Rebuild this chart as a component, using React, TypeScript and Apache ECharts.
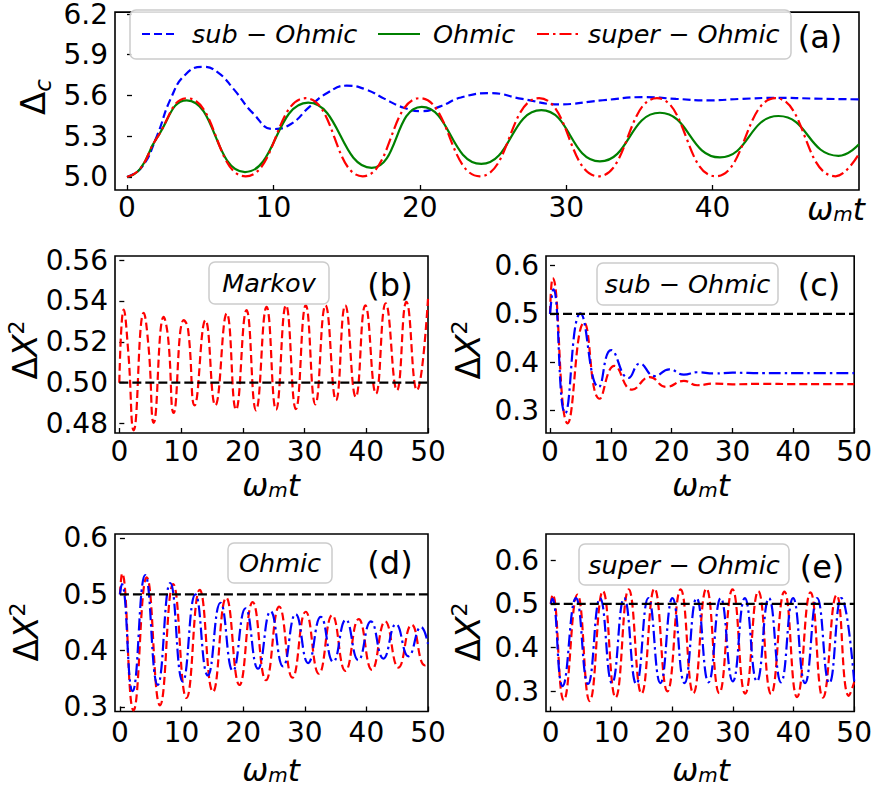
import React, { useEffect, useRef } from "react";
import * as echarts from "echarts";

const MATH = "DejaVu Sans";
const SANS = "DejaVu Sans";

// ---------- tick values ----------
const xTicksA = [0, 10, 20, 30, 40];
const xTicks = [0, 10, 20, 30, 40, 50];
const yTicksA = [5.0, 5.3, 5.6, 5.9, 6.2];
const yTicksB = [0.48, 0.5, 0.52, 0.54, 0.56];
const yTicksCDE = [0.3, 0.4, 0.5, 0.6];

// ---------- panel (a): Delta_c ----------
const aSubOhmic: [number, number][] = [
  [0, 5.0], [1, 5.07], [2, 5.29], [3, 5.58], [4, 5.755], [5.2, 5.811], [6.2, 5.77], [7.3, 5.645],
  [8.6, 5.47], [10.0, 5.353], [11.2, 5.39], [12.5, 5.52], [13.7, 5.62], [15.0, 5.672], [16.3, 5.645],
  [17.6, 5.575], [18.9, 5.51], [20.1, 5.485], [21.4, 5.52], [22.8, 5.585], [24.8, 5.617], [27.0, 5.575],
  [29.5, 5.535], [32.5, 5.565], [35.3, 5.588], [37.5, 5.575], [39.6, 5.564], [42.0, 5.575], [44.4, 5.583],
  [47.0, 5.577], [50, 5.571],
];
const aOhmic: [number, number][] = [
  [0, 5.0], [0.9, 5.06], [2.0, 5.28], [4.08, 5.564], [8.06, 5.036], [12.38, 5.547], [16.71, 5.067],
  [20.13, 5.516], [24.2, 5.096], [28.3, 5.492], [32.3, 5.115], [36.4, 5.473], [40.5, 5.144], [44.5, 5.449],
  [48.6, 5.156], [50, 5.24],
];
const aSuperOhmic: [number, number][] = [
  [0, 5.0], [0.9, 5.06], [2.0, 5.28], [4.1, 5.58], [8.1, 5.005], [12.2, 5.58], [16.1, 5.005], [20.0, 5.58],
  [24.1, 5.005], [28.15, 5.58], [32.2, 5.005], [36.2, 5.58], [40.2, 5.005], [44.3, 5.58], [48.4, 5.005],
  [50, 5.17],
];

// ---------- panel (b): Markov ----------
const bMarkov: [number, number][] = [
  [0, 0.5], [0.71, 0.5358], [1.45, 0.515], [2.33, 0.4767], [3.95, 0.5342], [4.75, 0.517], [5.57, 0.4804],
  [7.19, 0.5322], [7.9, 0.522], [8.8, 0.4852], [10.42, 0.5306], [11.1, 0.527], [12.2, 0.4889],
  [13.95, 0.5306], [15.55, 0.4889], [17.4, 0.5339], [18.9, 0.4868], [20.6, 0.5355], [22.14, 0.4865],
  [23.85, 0.5371], [25.38, 0.4868], [27.0, 0.5379], [28.6, 0.4871], [30.2, 0.5379], [31.75, 0.4894],
  [33.4, 0.5379], [35.1, 0.4914], [36.6, 0.5379], [38.3, 0.493], [39.85, 0.5379], [41.57, 0.4946],
  [43.15, 0.5388], [44.97, 0.4963], [46.5, 0.5396], [48.2, 0.4963], [50, 0.541],
];

// ---------- panel (c): sub-Ohmic ----------
const cBlue: [number, number][] = [
  [0, 0.5], [0.55, 0.551], [2.5, 0.294], [5.0, 0.501], [8.0, 0.348], [10.05, 0.425], [12.9, 0.367],
  [14.75, 0.397], [17.2, 0.371], [19.6, 0.385], [22.0, 0.374], [24.2, 0.379], [27, 0.3765], [30, 0.378],
  [35, 0.377], [40, 0.377], [45, 0.377], [50, 0.377],
];
const cRed: [number, number][] = [
  [0, 0.5], [0.44, 0.574], [2.9, 0.273], [5.6, 0.482], [8.15, 0.324], [10.6, 0.392], [13.5, 0.343],
  [16.4, 0.369], [19.1, 0.3485], [22.0, 0.361], [24.2, 0.352], [27, 0.3555], [30, 0.354], [35, 0.355],
  [40, 0.3545], [45, 0.3545], [50, 0.3545],
];

// ---------- panel (d): Ohmic ----------
const dBlue: [number, number][] = [
  [0, 0.5], [0.3, 0.518], [2.05, 0.328], [4.1, 0.534], [6.13, 0.339], [8.17, 0.52], [10.2, 0.345],
  [12.24, 0.5], [14.27, 0.356], [16.31, 0.485], [18.34, 0.364], [20.38, 0.475], [22.41, 0.368],
  [24.45, 0.47], [26.48, 0.372], [28.52, 0.465], [30.55, 0.378], [32.59, 0.46], [34.62, 0.38],
  [36.66, 0.455], [38.69, 0.383], [40.73, 0.452], [42.76, 0.386], [44.8, 0.447], [46.83, 0.39],
  [48.87, 0.442], [50, 0.412],
];
const dRed: [number, number][] = [
  [0, 0.5], [0.35, 0.537], [2.2, 0.294], [4.35, 0.53], [6.5, 0.303], [8.65, 0.518], [10.8, 0.316],
  [12.95, 0.508], [15.1, 0.327], [17.25, 0.494], [19.4, 0.339], [21.55, 0.486], [23.7, 0.3475],
  [25.85, 0.478], [28.0, 0.352], [30.15, 0.469], [32.3, 0.359], [34.45, 0.463], [36.6, 0.364],
  [38.75, 0.456], [40.9, 0.366], [43.05, 0.452], [45.2, 0.37], [47.35, 0.446], [49.5, 0.374], [50, 0.376],
];

// ---------- panel (e): super-Ohmic ----------
const eBlue: [number, number][] = [
  [0, 0.5], [0.25, 0.512], [1.95, 0.311], [4.15, 0.513], [6.14, 0.316], [8.13, 0.513], [10.1, 0.318],
  [12.1, 0.513], [14.1, 0.316], [16.08, 0.513], [18.07, 0.318], [20.05, 0.513], [22.04, 0.318],
  [24.03, 0.513], [26.0, 0.32], [28.0, 0.513], [30.0, 0.322], [31.98, 0.513], [33.97, 0.322],
  [35.95, 0.513], [37.94, 0.32], [39.93, 0.513], [41.9, 0.318], [43.9, 0.513], [45.9, 0.318],
  [47.88, 0.513], [50, 0.322],
];
const eRed: [number, number][] = [
  [0, 0.5], [0.3, 0.521], [2.15, 0.279], [4.4, 0.521], [6.42, 0.277], [8.6, 0.529], [10.69, 0.285],
  [12.85, 0.533], [14.96, 0.294], [17.1, 0.535], [19.23, 0.299], [21.4, 0.533], [23.5, 0.295],
  [25.65, 0.535], [27.77, 0.295], [29.95, 0.533], [32.04, 0.294], [34.2, 0.529], [36.31, 0.293],
  [38.5, 0.528], [40.58, 0.286], [42.8, 0.526], [44.85, 0.285], [47.1, 0.52], [49.12, 0.289], [50, 0.32],
];

const refLine: [number, number][] = [[0, 0.5], [50, 0.5]];

// ---------- styles ----------
const BLUE = "#0000ff";
const GREEN = "#008000";
const RED = "#ff0000";
const DASH = [8, 4];
const DASHDOT = [12, 4, 2.5, 4];
const BLACKDASH = [9, 4];
const LW = 2.2;

const grids = [
  { left: 115, top: 8, width: 744, height: 182 },
  { left: 115, top: 256, width: 313, height: 177 },
  { left: 546, top: 256, width: 313, height: 177 },
  { left: 115, top: 534, width: 313, height: 177.5 },
  { left: 546, top: 534, width: 313, height: 177.5 },
];
const xRanges = [[-0.82, 50], [-0.7, 50], [-0.66, 50], [-0.8, 50], [-0.78, 50]];
const yRanges = [[4.904, 6.214], [0.4754, 0.562], [0.253, 0.62], [0.292, 0.607], [0.253, 0.66]];
const yTickSets = [yTicksA, yTicksB, yTicksCDE, yTicksCDE, yTicksCDE];
const yDecimals = [1, 2, 1, 1, 1];
const xLabelMargins = [7, 8, 8, 11, 11];
const TICKFONT = 28;

function makeX(i: number) {
  const ticks = i === 0 ? xTicksA : xTicks;
  return {
    type: "value",
    gridIndex: i,
    min: xRanges[i][0],
    max: xRanges[i][1],
    axisLine: { show: false },
    splitLine: { show: false },
    axisTick: { show: true, inside: true, length: 5, lineStyle: { color: "#000", width: 1.3 }, customValues: ticks },
    axisLabel: {
      customValues: ticks,
      formatter: (v: number) => String(Math.round(v)),
      fontFamily: MATH,
      fontSize: TICKFONT,
      lineHeight: 20,
      color: "#000",
      margin: xLabelMargins[i],
    },
  };
}

function makeY(i: number) {
  const ticks = yTickSets[i];
  return {
    type: "value",
    gridIndex: i,
    min: yRanges[i][0],
    max: yRanges[i][1],
    axisLine: { show: false },
    splitLine: { show: false },
    axisTick: { show: true, inside: true, length: 5, lineStyle: { color: "#000", width: 1.3 }, customValues: ticks },
    axisLabel: {
      customValues: ticks,
      formatter: (v: number) => v.toFixed(yDecimals[i]),
      fontFamily: MATH,
      fontSize: TICKFONT,
      lineHeight: 20,
      color: "#000",
      margin: 7,
    },
  };
}

function line(name: string, data: [number, number][], i: number, color: string, type: any, smooth: any = 0.5, z = 2) {
  return {
    type: "line",
    name,
    data,
    xAxisIndex: i,
    yAxisIndex: i,
    symbol: "none",
    showSymbol: false,
    smooth,
    silent: true,
    z,
    lineStyle: { color, width: LW, type },
  };
}

function textEl(x: number, y: number, text: string, font: any) {
  return {
    type: "text",
    x,
    y,
    z: 100,
    style: { text, align: "center", verticalAlign: "middle", fill: "#000", ...font },
  };
}

function boxEl(x: number, y: number, w: number, h: number) {
  return {
    type: "rect",
    z: 99,
    shape: { x, y, width: w, height: h, r: 6 },
    style: { fill: "rgba(255,255,255,0.85)", stroke: "#cccccc", lineWidth: 1.5 },
  };
}

const italic = { fontFamily: MATH, fontStyle: "italic", fontSize: 25.5 };
const panelFont = { fontFamily: SANS, fontSize: 32 };

const richOmega = {
  text: "{w|ω}{m|m}{t|t}",
  rich: {
    w: { fontFamily: MATH, fontStyle: "italic", fontSize: 31, lineHeight: 30 },
    m: { fontFamily: MATH, fontStyle: "italic", fontSize: 20, verticalAlign: "bottom" },
    t: { fontFamily: MATH, fontStyle: "italic", fontSize: 31, lineHeight: 30 },
  },
};
const richDX = {
  text: "{d|Δ}{x|X}{s|2}",
  rich: {
    d: { fontFamily: MATH, fontSize: 33, lineHeight: 40 },
    x: { fontFamily: MATH, fontStyle: "italic", fontSize: 33, lineHeight: 40 },
    s: { fontFamily: MATH, fontSize: 22, verticalAlign: "top" },
  },
};
const richDc = {
  text: "{d|Δ}{c|c}",
  rich: {
    d: { fontFamily: MATH, fontSize: 34, lineHeight: 42 },
    c: { fontFamily: MATH, fontStyle: "italic", fontSize: 23, verticalAlign: "bottom" },
  },
};

function richEl(x: number, y: number, rich: any, rotate = false) {
  return {
    type: "text",
    x,
    y,
    z: 100,
    rotation: rotate ? Math.PI / 2 : 0,
    style: { ...rich, align: "center", verticalAlign: "middle", fill: "#000" },
  };
}

const legendY = 34;
const graphics: any[] = [
  // legend (a)
  boxEl(130, 10, 661, 49),
  { type: "line", z: 100, shape: { x1: 142, y1: legendY, x2: 178, y2: legendY }, style: { stroke: BLUE, lineWidth: LW, lineDash: DASH } },
  { type: "text", z: 100, x: 192, y: legendY, style: { text: "sub − Ohmic", align: "left", verticalAlign: "middle", fill: "#000", ...italic } },
  { type: "line", z: 100, shape: { x1: 378, y1: legendY, x2: 420, y2: legendY }, style: { stroke: GREEN, lineWidth: LW } },
  { type: "text", z: 100, x: 433, y: legendY, style: { text: "Ohmic", align: "left", verticalAlign: "middle", fill: "#000", ...italic } },
  { type: "line", z: 100, shape: { x1: 537, y1: legendY, x2: 578, y2: legendY }, style: { stroke: RED, lineWidth: LW, lineDash: DASHDOT } },
  { type: "text", z: 100, x: 588, y: legendY, style: { text: "super − Ohmic", align: "left", verticalAlign: "middle", fill: "#000", ...italic } },
  // panel tags
  textEl(820, 37, "(a)", panelFont),
  textEl(390, 285, "(b)", panelFont),
  textEl(819, 285, "(c)", panelFont),
  textEl(390, 563, "(d)", panelFont),
  textEl(822, 567, "(e)", panelFont),
  // inset label boxes
  boxEl(209, 262, 120, 42),
  textEl(269, 283, "Markov", italic),
  boxEl(597, 263, 181, 42),
  textEl(687.5, 284, "sub − Ohmic", italic),
  boxEl(228, 543, 104, 40),
  textEl(280, 563, "Ohmic", italic),
  boxEl(579, 544, 210, 41),
  textEl(684, 564.5, "super − Ohmic", italic),
  // axis names
  richEl(33, 97, richDc, true),
  richEl(25, 350, richDX, true),
  richEl(468, 350, richDX, true),
  richEl(26, 632, richDX, true),
  richEl(468, 632, richDX, true),
  richEl(836, 209, richOmega),
  richEl(271, 485, richOmega),
  richEl(701, 485, richOmega),
  richEl(271, 770, richOmega),
  richEl(701, 770, richOmega),
];

const option: any = {
  animation: false,
  backgroundColor: "#ffffff",
  grid: grids.map((g) => ({ ...g, show: true, borderColor: "#000", borderWidth: 1.6, backgroundColor: "transparent" })),
  xAxis: [0, 1, 2, 3, 4].map(makeX),
  yAxis: [0, 1, 2, 3, 4].map(makeY),
  series: [
    line("sub-Ohmic", aSubOhmic, 0, BLUE, DASH),
    line("Ohmic", aOhmic, 0, GREEN, "solid"),
    line("super-Ohmic", aSuperOhmic, 0, RED, DASHDOT),
    line("Markov", bMarkov, 1, RED, DASH),
    line("ref b", refLine, 1, "#000", BLACKDASH, false, 3),
    line("c red", cRed, 2, RED, DASH),
    line("c blue", cBlue, 2, BLUE, DASHDOT),
    line("ref c", refLine, 2, "#000", BLACKDASH, false, 3),
    line("d red", dRed, 3, RED, DASH),
    line("d blue", dBlue, 3, BLUE, DASHDOT),
    line("ref d", refLine, 3, "#000", BLACKDASH, false, 3),
    line("e red", eRed, 4, RED, DASH),
    line("e blue", eBlue, 4, BLUE, DASHDOT),
    line("ref e", refLine, 4, "#000", BLACKDASH, false, 3),
  ],
  graphic: graphics,
};

export default function App() {
  const ref = useRef<HTMLDivElement>(null);
  useEffect(() => {
    if (!ref.current) return;
    const chart = echarts.init(ref.current, null, { renderer: "svg" });
    chart.setOption(option);
    return () => chart.dispose();
  }, []);
  return (
    <div
      ref={ref}
      style={{ position: "absolute", left: 0, top: 0, width: 875, height: 790, background: "#fff" }}
    />
  );
}
